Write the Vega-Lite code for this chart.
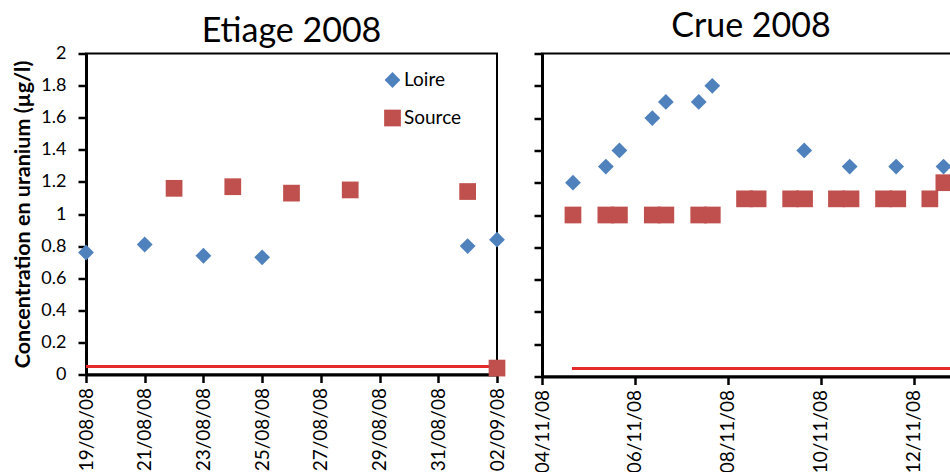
{
  "$schema": "https://vega.github.io/schema/vega-lite/v6.json",
  "padding": {"left": 11, "top": 8.5, "right": 0, "bottom": 0},
  "background": "white",
  "bounds": "flush",
  "spacing": 45,
  "config": {
    "font": "Lato",
    "view": {"stroke": "black", "strokeWidth": 2},
    "axis": {
      "domainColor": "black", "domainWidth": 3,
      "tickColor": "black", "tickWidth": 2.5, "tickSize": 8,
      "labelColor": "black", "labelFont": "Lato", "labelFontSize": 18,
      "labelPadding": 12, "grid": false, "labelOverlap": false, "labelFlush": false,
      "titleColor": "black", "titleFont": "Lato", "titleFontSize": 21.5, "titleFontWeight": "bold"
    },
    "title": {"font": "Lato", "fontSize": 34, "fontWeight": "normal", "color": "black"}
  },
  "datasets": {
    "etiage": [
      {"date": "2008-08-19T00:00", "serie": "Loire", "value": 0.76},
      {"date": "2008-08-21T00:00", "serie": "Loire", "value": 0.81},
      {"date": "2008-08-23T00:00", "serie": "Loire", "value": 0.74},
      {"date": "2008-08-25T00:00", "serie": "Loire", "value": 0.73},
      {"date": "2008-09-01T00:00", "serie": "Loire", "value": 0.80},
      {"date": "2008-09-02T00:00", "serie": "Loire", "value": 0.84},
      {"date": "2008-08-22T00:00", "serie": "Source", "value": 1.16},
      {"date": "2008-08-24T00:00", "serie": "Source", "value": 1.17},
      {"date": "2008-08-26T00:00", "serie": "Source", "value": 1.13},
      {"date": "2008-08-28T00:00", "serie": "Source", "value": 1.15},
      {"date": "2008-09-01T00:00", "serie": "Source", "value": 1.14},
      {"date": "2008-09-02T00:00", "serie": "Source", "value": 0.04}
    ],
    "seuilEtiage": [
      {"date": "2008-08-19T00:00", "value": 0.05},
      {"date": "2008-09-02T00:00", "value": 0.05}
    ],
    "crue": [
      {"date": "2008-11-04T16:00", "serie": "Loire", "value": 1.20},
      {"date": "2008-11-05T09:00", "serie": "Loire", "value": 1.30},
      {"date": "2008-11-05T16:00", "serie": "Loire", "value": 1.40},
      {"date": "2008-11-06T09:00", "serie": "Loire", "value": 1.60},
      {"date": "2008-11-06T16:00", "serie": "Loire", "value": 1.70},
      {"date": "2008-11-07T09:00", "serie": "Loire", "value": 1.70},
      {"date": "2008-11-07T16:00", "serie": "Loire", "value": 1.80},
      {"date": "2008-11-09T15:30", "serie": "Loire", "value": 1.40},
      {"date": "2008-11-10T15:00", "serie": "Loire", "value": 1.30},
      {"date": "2008-11-11T15:00", "serie": "Loire", "value": 1.30},
      {"date": "2008-11-12T15:30", "serie": "Loire", "value": 1.30},
      {"date": "2008-11-04T16:00", "serie": "Source", "value": 1.00},
      {"date": "2008-11-05T09:00", "serie": "Source", "value": 1.00},
      {"date": "2008-11-05T16:00", "serie": "Source", "value": 1.00},
      {"date": "2008-11-06T09:00", "serie": "Source", "value": 1.00},
      {"date": "2008-11-06T16:00", "serie": "Source", "value": 1.00},
      {"date": "2008-11-07T09:00", "serie": "Source", "value": 1.00},
      {"date": "2008-11-07T16:00", "serie": "Source", "value": 1.00},
      {"date": "2008-11-08T08:40", "serie": "Source", "value": 1.10},
      {"date": "2008-11-08T15:40", "serie": "Source", "value": 1.10},
      {"date": "2008-11-09T08:30", "serie": "Source", "value": 1.10},
      {"date": "2008-11-09T15:40", "serie": "Source", "value": 1.10},
      {"date": "2008-11-10T08:10", "serie": "Source", "value": 1.10},
      {"date": "2008-11-10T15:40", "serie": "Source", "value": 1.10},
      {"date": "2008-11-11T08:30", "serie": "Source", "value": 1.10},
      {"date": "2008-11-11T15:50", "serie": "Source", "value": 1.10},
      {"date": "2008-11-12T08:25", "serie": "Source", "value": 1.10},
      {"date": "2008-11-12T15:40", "serie": "Source", "value": 1.20}
    ],
    "seuilCrue": [
      {"date": "2008-11-04T15:30", "value": 0.05},
      {"date": "2008-11-13T00:00", "value": 0.05}
    ]
  },
  "resolve": {"scale": {"color": "independent", "shape": "independent", "size": "independent"}, "legend": {"color": "independent", "shape": "independent"}},
  "hconcat": [
    {
      "width": 411,
      "height": 321,
      "title": {"text": "Etiage 2008", "offset": -4.4, "frame": "group"},
      "encoding": {
        "x": {
          "field": "date", "type": "temporal",
          "scale": {"domain": [{"year": 2008, "month": 8, "date": 19}, {"year": 2008, "month": 9, "date": 2}], "nice": false},
          "axis": {
            "title": null, "format": "%d/%m/%y", "labelAngle": 270, "labelPadding": 5, "labelFontSize": 19,
            "values": [
              {"year": 2008, "month": 8, "date": 19}, {"year": 2008, "month": 8, "date": 21},
              {"year": 2008, "month": 8, "date": 23}, {"year": 2008, "month": 8, "date": 25},
              {"year": 2008, "month": 8, "date": 27}, {"year": 2008, "month": 8, "date": 29},
              {"year": 2008, "month": 8, "date": 31}, {"year": 2008, "month": 9, "date": 2}
            ]
          }
        },
        "y": {
          "field": "value", "type": "quantitative",
          "scale": {"domain": [0, 2], "nice": false},
          "axis": {
            "title": "Concentration en uranium (µg/l)", "format": "~g", "titlePadding": 6,
            "values": [0, 0.2, 0.4, 0.6, 0.8, 1, 1.2, 1.4, 1.6, 1.8, 2]
          }
        }
      },
      "layer": [
        {
          "data": {"name": "seuilEtiage"},
          "mark": {"type": "line", "color": "#E52A2A", "strokeWidth": 3},
          "encoding": {}
        },
        {
          "data": {"name": "etiage"},
          "mark": {"type": "point", "filled": true, "opacity": 1, "strokeWidth": 0},
          "encoding": {
            "color": {"field": "serie", "type": "nominal", "scale": {"domain": ["Loire", "Source"], "range": ["#4F81BD", "#C0504D"]},
              "legend": {"orient": "none", "legendX": 297, "legendY": 17, "title": null, "labelFontSize": 19, "labelColor": "black", "symbolSize": 250, "rowPadding": 18, "labelOffset": 2, "symbolStrokeWidth": 0}},
            "shape": {"field": "serie", "type": "nominal", "scale": {"domain": ["Loire", "Source"], "range": ["diamond", "square"]},
              "legend": {"orient": "none", "legendX": 297, "legendY": 17, "title": null, "labelFontSize": 19, "labelColor": "black", "symbolSize": 250, "rowPadding": 18, "labelOffset": 2, "symbolStrokeWidth": 0}},
            "size": {"field": "serie", "type": "nominal", "scale": {"domain": ["Loire", "Source"], "range": [250, 280]}, "legend": null}
          }
        }
      ]
    },
    {
      "width": 418,
      "height": 323,
      "title": {"text": "Crue 2008", "offset": 8.5, "frame": "group"},
      "encoding": {
        "x": {
          "field": "date", "type": "temporal",
          "scale": {"domain": [{"year": 2008, "month": 11, "date": 4}, {"year": 2008, "month": 11, "date": 13}], "nice": false},
          "axis": {
            "title": null, "format": "%d/%m/%y", "labelAngle": 270, "labelPadding": 5, "labelFontSize": 19,
            "values": [
              {"year": 2008, "month": 11, "date": 4}, {"year": 2008, "month": 11, "date": 6},
              {"year": 2008, "month": 11, "date": 8}, {"year": 2008, "month": 11, "date": 10},
              {"year": 2008, "month": 11, "date": 12}
            ]
          }
        },
        "y": {
          "field": "value", "type": "quantitative",
          "scale": {"domain": [0, 2], "nice": false},
          "axis": {
            "title": null, "labels": false,
            "values": [0, 0.2, 0.4, 0.6, 0.8, 1, 1.2, 1.4, 1.6, 1.8, 2]
          }
        }
      },
      "layer": [
        {
          "data": {"name": "seuilCrue"},
          "mark": {"type": "line", "color": "#E52A2A", "strokeWidth": 3},
          "encoding": {}
        },
        {
          "data": {"name": "crue"},
          "mark": {"type": "point", "filled": true, "opacity": 1, "strokeWidth": 0},
          "encoding": {
            "color": {"field": "serie", "type": "nominal", "scale": {"domain": ["Loire", "Source"], "range": ["#4F81BD", "#C0504D"]}, "legend": null},
            "shape": {"field": "serie", "type": "nominal", "scale": {"domain": ["Loire", "Source"], "range": ["diamond", "square"]}, "legend": null},
            "size": {"field": "serie", "type": "nominal", "scale": {"domain": ["Loire", "Source"], "range": [250, 280]}, "legend": null}
          }
        }
      ]
    }
  ]
}
